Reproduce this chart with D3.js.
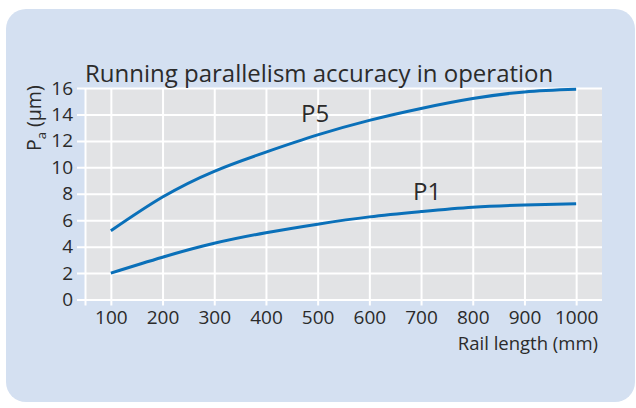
<!DOCTYPE html>
<html>
<head>
<meta charset="utf-8">
<script src="https://cdn.jsdelivr.net/npm/d3@7"></script>
<style>
  body { margin:0; background:#fff; }
  svg text { font-family: "Open Sans", sans-serif; fill:#2b2b2b; }
</style>
</head>
<body>
<svg id="chart" width="636" height="408"></svg>
<script>
// rail length (mm)
var railLength = [100, 200, 300, 400, 500, 600, 700, 800, 900, 1000];
// running parallelism Pa (µm)
var p5 = [5.2, 7.75, 9.7, 11.15, 12.45, 13.55, 14.45, 15.2, 15.7, 15.9];
var p1 = [2.0, 3.2, 4.25, 5.05, 5.7, 6.25, 6.65, 6.98, 7.15, 7.25];
var xTicks = [100, 200, 300, 400, 500, 600, 700, 800, 900, 1000];
var yTicks = [0, 2, 4, 6, 8, 10, 12, 14, 16];

var svg = d3.select("#chart");

// light blue card
svg.append("rect").attr("x",6).attr("y",9).attr("width",629).attr("height",393)
    .attr("rx",20).attr("fill","#d4e0f1");

var x = d3.scaleLinear().domain([50,1050]).range([85,602]);
var y = d3.scaleLinear().domain([0,16]).range([299.5,88]);

svg.append("rect").attr("x",x(50)).attr("y",y(16))
    .attr("width",x(1050)-x(50)).attr("height",y(0)-y(16))
    .attr("fill","#e2e3e5");

// grid: horizontal lines stick out on the left as ticks
var yAxis = d3.axisLeft(y).tickValues(yTicks).tickSize(0).tickPadding(5);
var gy = svg.append("g").attr("transform","translate("+(x(50)-8)+",0)")
    .call(yAxis);
gy.selectAll(".tick line").attr("x1",0).attr("x2",x(1050)-x(50)+8)
gy.selectAll(".tick text").attr("x",-4)

var xAxis = d3.axisBottom(x).tickValues([50].concat(xTicks)).tickSize(y(0)-y(16)+6).tickPadding(3)
    .tickFormat(function(d){ return d==50 ? "" : d; });
var gx = svg.append("g").attr("transform","translate(0,"+y(16)+")").call(xAxis);

svg.selectAll(".domain").remove();
svg.selectAll(".tick line").attr("stroke","#fff").attr("stroke-width",2);
svg.selectAll(".tick text").attr("font-size",19).attr("fill","#2b2b2b");
gx.selectAll(".tick text").attr("dy","0.82em");

// curves
var line = d3.line()
    .x(function(d,i){ return x(railLength[i]); })
    .y(function(d){ return y(d); })
    .curve(d3.curveNatural);

[p5, p1].forEach(function(s){
    svg.append("path").datum(s).attr("d",line)
        .attr("fill","none").attr("stroke","#0a70b9").attr("stroke-width",3);
});

svg.append("text").attr("x",301).attr("y",122).attr("font-size",24).text("P5");
svg.append("text").attr("x",413).attr("y",200).attr("font-size",24).text("P1");

// titles
svg.append("text").attr("x",85).attr("y",82).attr("font-size",24)
    .text("Running parallelism accuracy in operation");

svg.append("text").attr("x",598).attr("y",350).attr("font-size",18.5)
    .attr("text-anchor","end").text("Rail length (mm)");

var yl = svg.append("text").attr("transform","translate(41,151) rotate(-90)")
    .attr("font-size",19.5);
yl.append("tspan").text("P");
yl.append("tspan").attr("font-size",13).attr("dy",5).text("a");
yl.append("tspan").attr("dy",-5).text(" (µm)");
</script>
</body>
</html>
